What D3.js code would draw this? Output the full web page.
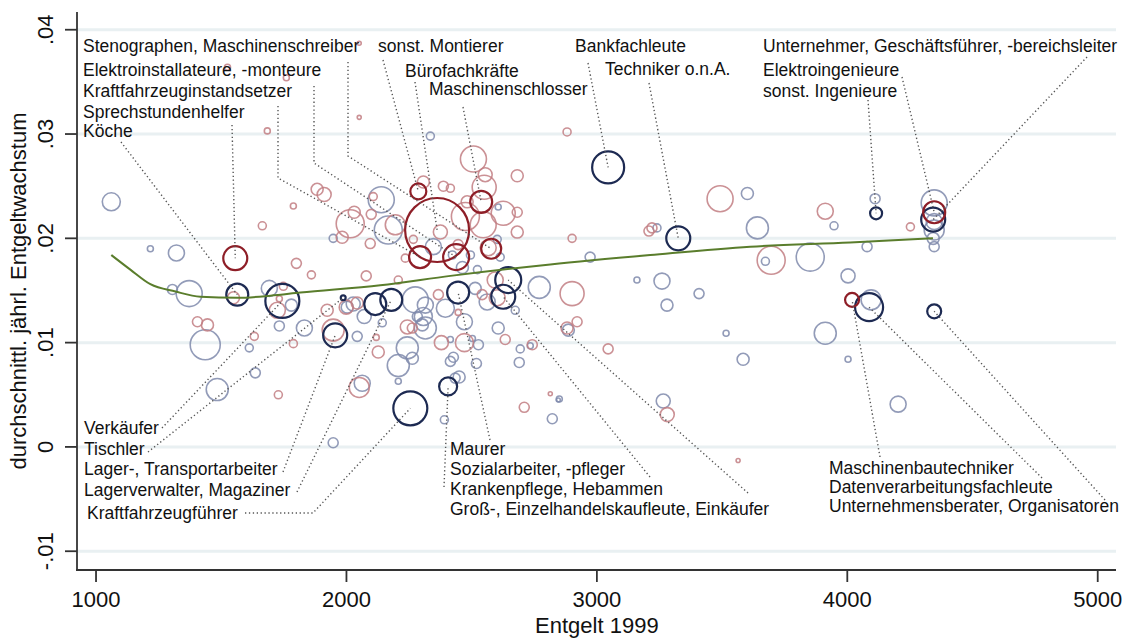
<!DOCTYPE html>
<meta charset="utf-8">
<script src="https://d3js.org/d3.v7.min.js"></script>
<style>
body {margin: 0; background: white;}
svg text {font-family: "Liberation Sans", Arial, sans-serif;}
.grid line {stroke: #e9f0f2; stroke-width: 3;}
.achse {stroke: #333; stroke-width: 1.8; fill: none;}
.label {font-size: 17.5px; fill: #111;}
.leader {stroke: #555; stroke-width: 1.4; stroke-dasharray: 1.3 2.6; fill: none;}
</style>
<body>
<svg width=1130 height=639></svg>
<script>
// Entgelt 1999, Wachstum, Beschäftigte (Kreisfläche)
var blassBlau = [
 [1061,.0235,810],[1217,.0190,90],[1321,.0186,640],[1305,.0151,250],[1372,.0147,1690],
 [1692,.0152,640],[1780,.0136,360],[1436,.0098,2250],[1732,.0116,250],[1612,.0095,160],
 [1636,.0071,250],[1484,.0055,1210],[1832,.0114,640],[1947,.0200,160],[2139,.0237,1690],
 [2167,.0208,1960],[2003,.0134,360],[2027,.0137,490],[2071,.0125,490],[2043,.0106,250],
 [2143,.0119,160],[2063,.0061,640],[1947,.0004,250],[2275,.0141,1690],[2283,.0125,250],
 [2303,.0117,360],[2243,.0095,1210],[2207,.0078,1210],[2263,.0085,360],[2207,.0063,90],
 [2315,.0136,640],[2307,.0125,810],[2395,.0133,810],[2315,.0114,1210],[2514,.0152,360],
 [2562,.0139,640],[2471,.0120,640],[2606,.0114,360],[2674,.0131,160],[2415,.0103,90],
 [2503,.0104,90],[2527,.0098,250],[2694,.0094,160],[2734,.0097,90],[2427,.0086,250],
 [2415,.0082,250],[2690,.0081,250],[2519,.0080,250],[2450,.0067,360],[2434,.0066,250],
 [2391,.0026,160],[2846,.0045,40],[2822,.0027,250],[2335,.0298,160],[2347,.0192,640],
 [2423,.0184,160],[2495,.0184,160],[2602,.0199,160],[2606,.0230,90],[2614,.0182,160],
 [2463,.0172,360],[2523,.0170,160],[2770,.0153,1210],[2973,.0182,250],[3240,.0210,160],
 [3160,.0160,90],[3260,.0159,640],[3408,.0147,250],[3280,.0136,360],[2886,.0112,360],
 [3516,.0109,90],[3584,.0084,360],[2850,.0046,90],[3265,.0044,490],[3601,.0243,360],
 [3641,.0210,1210],[3947,.0212,160],[3673,.0178,160],[3852,.0182,1960],[4079,.0192,250],
 [4003,.0164,490],[4111,.0238,250],[4347,.0234,1690],[4347,.0216,640],[4347,.0208,1000],
 [4343,.0200,360],[4347,.0192,250],[4095,.0141,1000],[3912,.0109,1210],[4003,.0084,90],
 [4203,.0041,640]
];
var blassRot = [
 [2051,.0387,40],[1525,.0364,90],[1760,.0354,90],[2051,.0316,40],[1684,.0303,90],
 [1883,.0247,360],[1911,.0242,490],[1788,.0231,90],[1664,.0212,160],[2015,.0214,1960],
 [2031,.0225,360],[1983,.0201,360],[2095,.0195,250],[2107,.0240,160],[2099,.0223,250],
 [2195,.0213,1000],[1800,.0176,250],[1860,.0165,160],[2079,.0164,250],[2235,.0181,160],
 [2207,.0160,160],[1549,.0143,360],[1748,.0154,160],[1732,.0142,90],[1724,.0131,640],
 [1405,.0120,250],[1445,.0117,360],[1632,.0106,160],[1788,.0099,160],[1728,.0050,160],
 [1923,.0131,360],[1999,.0134,490],[2043,.0138,360],[1947,.0112,1210],[2119,.0105,90],
 [2127,.0091,360],[2051,.0057,1000],[2243,.0115,490],[2263,.0114,250],[2307,.0254,360],
 [2387,.0250,250],[2415,.0248,160],[2507,.0276,1690],[2554,.0261,490],[2550,.0249,1440],
 [2682,.0260,360],[2482,.0235,360],[2682,.0225,250],[2626,.0224,1440],[2475,.0221,1960],
 [2546,.0213,1690],[2682,.0206,360],[2375,.0206,490],[2446,.0194,250],[2566,.0191,640],
 [2267,.0199,160],[2881,.0302,160],[2901,.0200,160],[2901,.0147,1440],[3492,.0238,1690],
 [3208,.0207,250],[3220,.0210,250],[3696,.0179,1960],[3912,.0226,640],[4252,.0211,160],
 [2921,.0120,250],[2881,.0114,360],[3045,.0094,250],[2814,.0051,40],[2710,.0038,250],
 [3281,.0031,490],[3564,-.0013,40],[2379,.0100,490],[2471,.0100,810],[2634,.0103,250],
 [2742,.0098,250],[2446,.0129,90],[2594,.0160,640],[2602,.0143,640],[2542,.0146,250],
 [2367,.0146,250]
];
var dunkelBlau = [
 [1564,.0146,1210,"Köche"],[1744,.0140,2890,"Verkäufer"],[1987,.0143,60,"Tischler"],
 [1955,.0107,1440,"Lager-, Transportarbeiter"],[2179,.0141,1210,"Lagerverwalter, Magaziner"],
 [2255,.0037,2890,"Kraftfahrzeugführer"],[2446,.0148,1210,"Maurer"],
 [2626,.0144,1440,"Sozialarbeiter, -pfleger"],[2406,.0058,810,"Krankenpflege, Hebammen"],
 [2646,.0160,1690,"Groß-, Einzelhandelskaufleute, Einkäufer"],[3045,.0268,2560,"Bankfachleute"],
 [3325,.0200,1440,"Techniker o.n.A."],[4115,.0224,360,"sonst. Ingenieure"],
 [4343,.0218,1440,"Unternehmer, Geschäftsführer, -bereichsleiter"],
 [4087,.0134,1960,"Datenverarbeitungsfachleute"],[4347,.0130,490,"Unternehmensberater, Organisatoren"],
 [2115,.0137,1210,""]
];
var dunkelRot = [
 [1556,.0181,1440,"Sprechstundenhelfer"],[2578,.0190,1000,"Stenographen, Maschinenschreiber"],
 [2438,.0182,1690,"Elektroinstallateure, -monteure"],[2294,.0182,1210,"Kraftfahrzeuginstandsetzer"],
 [2287,.0245,640,"sonst. Montierer"],[2362,.0208,10240,"Bürofachkräfte"],
 [2538,.0235,1210,"Maschinenschlosser"],[4347,.0225,1210,"Elektroingenieure"],
 [4019,.0141,490,"Maschinenbautechniker"]
];
// geglättete Kurve
var fitX = [1061,1137,1217,1317,1417,1564,1696,1816,2135,2415,2814,3213,3612,4011,4342];
var fitY = [.0184,.0170,.0156,.0149,.0144,.0143,.0145,.0148,.0155,.0164,.0175,.0184,.0192,.0196,.0200];

var xTicks = [1000,2000,3000,4000,5000];
var yTicks = [-.01,0,.01,.02,.03,.04];
var yTickText = ["-.01","0",".01",".02",".03",".04"];

// Lage der Beschriftungen: Text (x, Grundlinie), Anfang der Hinweislinie und Knick
var layout = [
 ["Stenographen, Maschinenschreiber",83,52,[[348,62],[348,156]]],
 ["Elektroinstallateure, -monteure",83,76,[[314,86],[314,163]]],
 ["Kraftfahrzeuginstandsetzer",83,97,[[278,106],[278,178]]],
 ["Sprechstundenhelfer",83,118,[[232,125]]],
 ["Köche",83,137,[[121,142]]],
 ["sonst. Montierer",378,52,[[383,60]]],
 ["Bürofachkräfte",405,77,[[415,82]]],
 ["Maschinenschlosser",429,95,[[463,107]]],
 ["Bankfachleute",575,52,[[588,63]]],
 ["Techniker o.n.A.",605,75,[[649,83]]],
 ["Unternehmer, Geschäftsführer, -bereichsleiter",763,52,[[1087,57]]],
 ["Elektroingenieure",763,76,[[902,77]]],
 ["sonst. Ingenieure",763,97,[[868,100]]],
 ["Verkäufer",84,434,[[162,428]]],
 ["Tischler",84,455,[[148,452]]],
 ["Lager-, Transportarbeiter",84,475,[[283,472]]],
 ["Lagerverwalter, Magaziner",84,496,[[297,492]]],
 ["Kraftfahrzeugführer",87,519,[[245,513],[313,513]]],
 ["Maurer",450,455,[[490,440]]],
 ["Sozialarbeiter, -pfleger",450,475,[[650,477]]],
 ["Krankenpflege, Hebammen",450,495,[[444,487]]],
 ["Groß-, Einzelhandelskaufleute, Einkäufer",450,515,[[748,493]]],
 ["Maschinenbautechniker",829,474,[[880,457]]],
 ["Datenverarbeitungsfachleute",829,493,[[1042,478]]],
 ["Unternehmensberater, Organisatoren",829,512,[[1105,500]]]
];

var svg = d3.select("svg");
var x = d3.scaleLinear().domain([924, 5073]).range([77, 1116]);
var y = d3.scaleLinear().domain([-.0118, .0417]).range([570, 12]);
var r = d3.scaleSqrt().domain([0, 10240]).range([0, 32]);

// Gitter
svg.append("g").attr("class", "grid")
  .selectAll("line").data(yTicks).enter().append("line")
  .attr("x1", 78).attr("x2", 1116)
  .attr("y1", function(d) { return y(d); })
  .attr("y2", function(d) { return y(d); });

function kreise(data, farbe, breite, deck) {
  svg.append("g").selectAll("circle").data(data).enter().append("circle")
    .attr("cx", function(d) { return x(d[0]); })
    .attr("cy", function(d) { return y(d[1]); })
    .attr("r", function(d) { return r(d[2]); })
    .attr("fill", "none")
    .attr("stroke", farbe)
    .attr("stroke-opacity", deck)
    .attr("stroke-width", breite);
}
kreise(blassBlau, "#7f8aab", 1.6, 0.85);
kreise(blassRot, "#c27e83", 1.6, 0.85);
kreise(dunkelBlau, "#1d2a52", 2.2, 1);
kreise(dunkelRot, "#8e1e27", 2.2, 1);

// Kurve
var line = d3.line()
  .x(function(d) { return x(d[0]); })
  .y(function(d) { return y(d[1]); })
  .curve(d3.curveMonotoneX);
svg.append("path")
  .datum(fitX.map(function(v, i) { return [v, fitY[i]]; }))
  .attr("d", line)
  .attr("fill", "none")
  .attr("stroke", "#5a7d2c")
  .attr("stroke-width", 2);

// Hinweislinien und Beschriftung
var punkte = {};
dunkelBlau.concat(dunkelRot).forEach(function(d) { if (d[3]) punkte[d[3]] = d; });

layout.forEach(function(l) {
  var p = punkte[l[0]];
  var pts = l[3].concat([[x(p[0]), y(p[1])]]);
  svg.append("path").attr("class", "leader")
    .attr("d", d3.line()(pts));
});
svg.append("g").selectAll("text").data(layout).enter().append("text")
  .attr("class", "label")
  .attr("x", function(d) { return d[1]; })
  .attr("y", function(d) { return d[2]; })
  .text(function(d) { return d[0]; });

// Achsen
svg.append("line").attr("class", "achse")
  .attr("x1", 77).attr("x2", 77).attr("y1", 12).attr("y2", 571);
svg.append("line").attr("class", "achse")
  .attr("x1", 76).attr("x2", 1116).attr("y1", 570).attr("y2", 570);

svg.append("g").selectAll("line").data(xTicks).enter().append("line")
  .attr("class", "achse")
  .attr("x1", function(d) { return x(d); }).attr("x2", function(d) { return x(d); })
  .attr("y1", 570).attr("y2", 582);
svg.append("g").selectAll("text").data(xTicks).enter().append("text")
  .attr("x", function(d) { return x(d); })
  .attr("y", 607)
  .attr("text-anchor", "middle")
  .attr("font-size", 22)
  .attr("fill", "#111")
  .text(function(d) { return d; });

svg.append("g").selectAll("line").data(yTicks).enter().append("line")
  .attr("class", "achse")
  .attr("x1", 65).attr("x2", 77)
  .attr("y1", function(d) { return y(d); }).attr("y2", function(d) { return y(d); });
svg.append("g").selectAll("text").data(yTicks).enter().append("text")
  .attr("transform", function(d) { return "translate(53," + y(d) + ") rotate(-90)"; })
  .attr("text-anchor", "middle")
  .attr("font-size", 22)
  .attr("fill", "#111")
  .text(function(d, i) { return yTickText[i]; });

svg.append("text")
  .attr("x", x(3000)).attr("y", 633)
  .attr("text-anchor", "middle")
  .attr("font-size", 22)
  .attr("fill", "#111")
  .text("Entgelt 1999");
svg.append("text")
  .attr("transform", "translate(26," + (12 + 570) / 2 + ") rotate(-90)")
  .attr("text-anchor", "middle")
  .attr("font-size", 22)
  .attr("fill", "#111")
  .text("durchschnittl. jährl. Entgeltwachstum");
</script>
</body>
